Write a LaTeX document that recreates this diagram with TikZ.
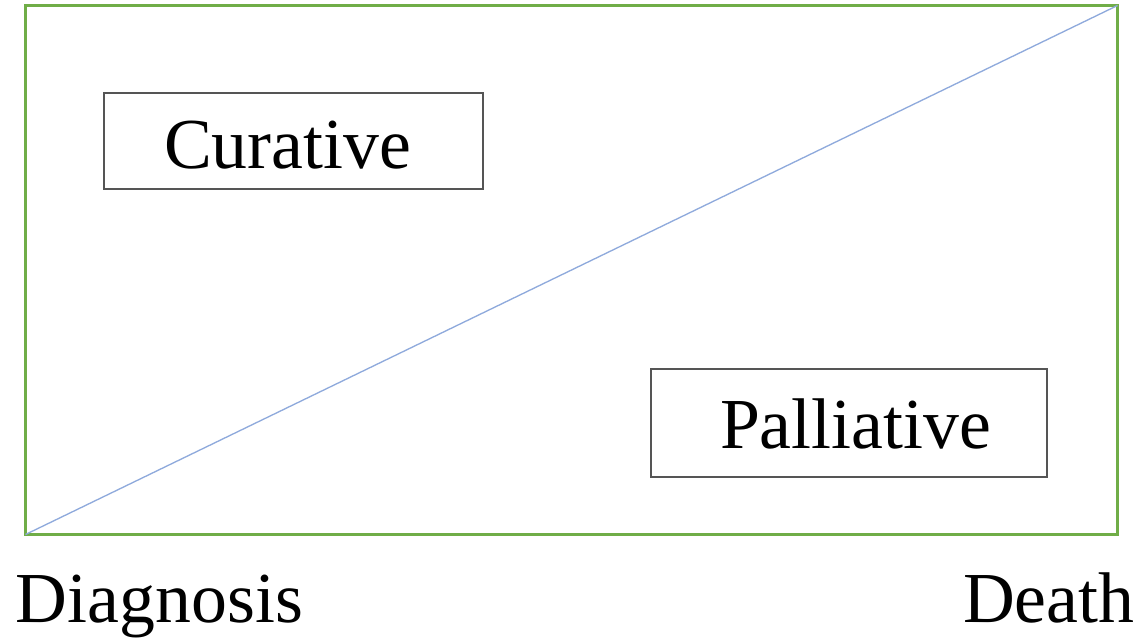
\documentclass[tikz,border=0pt]{standalone}
\usepackage{fontspec}
\setmainfont{Liberation Serif}
\definecolor{framegreen}{HTML}{70AD47}
\definecolor{diagblue}{HTML}{8FAADC}
\definecolor{boxgrey}{HTML}{555555}
\begin{document}
\begin{tikzpicture}[x=0.75pt,y=-0.75pt,
  frame/.style={draw=framegreen,line width=2.3pt,inner sep=0pt,outer sep=0pt,minimum width=819pt,minimum height=396.75pt},
  labelbox/.style={draw=boxgrey,line width=0.9pt,inner sep=0pt,outer sep=0pt},
  bigtext/.style={inner sep=0pt,outer sep=0pt,font=\fontsize{53.8}{60}\selectfont,anchor=base west},
  diag/.style={draw=diagblue,line width=1pt}]
\useasboundingbox (0,0) rectangle (1143,640);
\node[frame] (fr) at (571.5,270) {};
\draw[diag] (fr.south west) -- (fr.north east);
\node[labelbox,minimum width=284.25pt,minimum height=72pt] (cur) at (293.5,141) {};
\node[bigtext] (curt) at (164,168) {Curative};
\node[labelbox,minimum width=297pt,minimum height=81pt] (pal) at (849,423) {};
\node[bigtext] (palt) at (720,448) {Palliative};
\node[bigtext] (diagn) at (16,622) {Diagnosis};
\node[bigtext] (death) at (963,622) {Death};
\end{tikzpicture}
\end{document}
